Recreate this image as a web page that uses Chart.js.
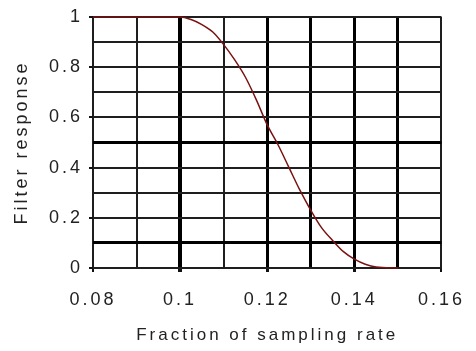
<!DOCTYPE html>
<html>
<head>
<meta charset="utf-8">
<script src="https://cdn.jsdelivr.net/npm/chart.js"></script>
<style>
  html, body { margin: 0; padding: 0; background: #fff; }
</style>
</head>
<body>
<canvas id="chart" width="476" height="351"></canvas>
<script>
// values
var freq = [0.08, 0.1, 0.1025, 0.105, 0.1075, 0.11, 0.1125, 0.115, 0.1175, 0.12,
  0.1225, 0.125, 0.1275, 0.13, 0.1325, 0.135, 0.1375, 0.14, 0.1425, 0.145, 0.15];
var response = [1, 1, 0.99, 0.97, 0.94, 0.89, 0.83, 0.76, 0.67, 0.57,
  0.49, 0.4, 0.31, 0.23, 0.16, 0.11, 0.065, 0.035, 0.015, 0.004, 0];

var xTicks = [0.08, 0.09, 0.1, 0.11, 0.12, 0.13, 0.14, 0.15, 0.16];
var xLabeled = [0.08, 0.1, 0.12, 0.14, 0.16];
var yTicks = [0, 0.1, 0.2, 0.3, 0.4, 0.5, 0.6, 0.7, 0.8, 0.9, 1];
var yLabeled = [0, 0.2, 0.4, 0.6, 0.8, 1];

// heavier grid lines
var xHeavy = [0.12, 0.13, 0.14, 0.15];
var xHeaviest = [0.1];
var yHeavy = [0.1, 0.5];

function has(list, v) {
  return list.some(x => Math.abs(x - v) < 1e-9);
}

function xWidth(ctx) {
  if (!ctx.tick) return 2;
  var v = ctx.tick.value;
  if (has(xHeaviest, v)) return 4;
  if (has(xHeavy, v)) return 3;
  return 2;
}

function yWidth(ctx) {
  if (!ctx.tick) return 2;
  return has(yHeavy, ctx.tick.value) ? 3 : 2;
}

function lineColor(heavy) {
  return function(ctx) {
    if (!ctx.tick) return '#222';
    return has(heavy, ctx.tick.value) ? '#000' : '#1e1e1e';
  };
}

function tickColor(labeled) {
  return function(ctx) {
    if (!ctx.tick) return 'rgba(0,0,0,0)';
    return has(labeled, ctx.tick.value) ? '#111' : 'rgba(0,0,0,0)';
  };
}

var spacing = {
  id: 'spacing',
  beforeDraw: function(chart) {
    chart.ctx.letterSpacing = '3px';
  }
};

var font = 'Arial, "Liberation Sans", sans-serif';

new Chart(document.getElementById('chart'), {
  type: 'scatter',
  data: {
    datasets: [{
      data: freq.map((f, i) => ({ x: f, y: response[i] })),
      showLine: true,
      borderColor: '#7a1212',
      borderWidth: 1.5,
      pointRadius: 0,
      cubicInterpolationMode: 'monotone',
      clip: 4
    }]
  },
  options: {
    responsive: false,
    animation: false,
    layout: { padding: { left: 0, right: 31, top: 17, bottom: 0 } },
    plugins: {
      legend: { display: false },
      tooltip: { enabled: false }
    },
    scales: {
      x: {
        type: 'linear',
        min: 0.08,
        max: 0.16,
        afterBuildTicks: function(scale) {
          scale.ticks = xTicks.map(v => ({ value: v }));
        },
        afterFit: function(scale) { scale.height = 83; },
        border: { display: false },
        grid: {
          lineWidth: xWidth,
          color: lineColor(xHeavy.concat(xHeaviest)),
          tickLength: 4,
          tickWidth: xWidth,
          tickColor: tickColor(xLabeled)
        },
        ticks: {
          autoSkip: false,
          maxRotation: 0,
          padding: 17,
          color: '#222',
          font: { family: font, size: 18 },
          callback: function(v) { return has(xLabeled, v) ? String(+v.toFixed(2)) : ''; }
        },
        title: {
          display: true,
          text: 'Fraction of sampling rate',
          color: '#222',
          font: { family: font, size: 17 },
          padding: { top: 0, bottom: 5 }
        }
      },
      y: {
        type: 'linear',
        min: 0,
        max: 1,
        afterBuildTicks: function(scale) {
          scale.ticks = yTicks.map(v => ({ value: v }));
        },
        afterFit: function(scale) { scale.width = 93; },
        border: { display: false },
        grid: {
          lineWidth: yWidth,
          color: lineColor(yHeavy),
          tickLength: 4,
          tickWidth: 2,
          tickColor: tickColor(yLabeled)
        },
        ticks: {
          autoSkip: false,
          padding: 6,
          color: '#222',
          font: { family: font, size: 18 },
          callback: function(v) { return has(yLabeled, v) ? String(+v.toFixed(1)) : ''; }
        },
        title: {
          display: true,
          text: 'Filter response',
          color: '#222',
          font: { family: font, size: 18 },
          padding: { top: 11, bottom: 0 }
        }
      }
    }
  },
  plugins: [spacing]
});
</script>
</body>
</html>
